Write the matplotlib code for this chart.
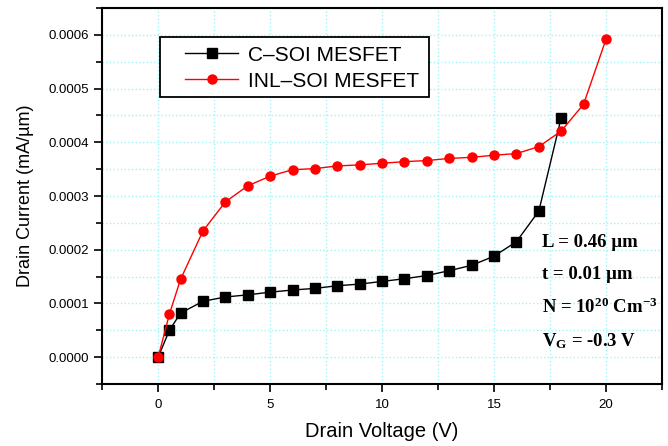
import numpy as np
import matplotlib
matplotlib.use('Agg')
import matplotlib.pyplot as plt
from matplotlib.patches import Rectangle
from matplotlib.ticker import MultipleLocator, FormatStrFormatter

# drain voltage (V)
vd_csoi = [0, 0.5, 1, 2, 3, 4, 5, 6, 7, 8, 9, 10, 11, 12, 13, 14, 15, 16, 17, 18]
id_csoi = [0, 0.000050, 0.000082, 0.000104, 0.000112, 0.000116, 0.000121, 0.000125,
           0.000128, 0.000133, 0.000136, 0.000141, 0.000146, 0.000152, 0.000161,
           0.000171, 0.000188, 0.000215, 0.000272, 0.000446]

vd_inl = [0, 0.5, 1, 2, 3, 4, 5, 6, 7, 8, 9, 10, 11, 12, 13, 14, 15, 16, 17, 18, 19, 20]
id_inl = [0, 0.000080, 0.000145, 0.000235, 0.000289, 0.000319, 0.000337, 0.000349,
          0.000351, 0.000356, 0.000358, 0.000361, 0.000364, 0.000366, 0.000370,
          0.000372, 0.000376, 0.000379, 0.000392, 0.000421, 0.000471, 0.000592]

labels = ['C\u2013SOI MESFET', 'INL\u2013SOI MESFET']
notes = ['L = 0.46 \u00b5m', 't = 0.01 \u00b5m',
         r'N = 10$^{\mathbf{20}}$ Cm$^{\mathbf{-3}}$', r'V$_{\mathregular{G}}$ = -0.3 V']

plt.rcParams['font.family'] = ['Liberation Sans', 'DejaVu Sans']
plt.rcParams['mathtext.fontset'] = 'custom'
plt.rcParams['mathtext.rm'] = 'Liberation Serif:bold'
plt.rcParams['mathtext.bf'] = 'Liberation Serif:bold'
plt.rcParams['mathtext.it'] = 'Liberation Serif:bold'

fig = plt.figure(figsize=(6.68, 4.46), dpi=100)
ax = fig.add_axes([0.153, 0.139, 0.838, 0.843])

ax.plot(vd_csoi, id_csoi, color='black', lw=1.0, marker='s', ms=6.5, label=labels[0], zorder=3)
ax.plot(vd_inl, id_inl, color='red', lw=1.0, marker='o', ms=6.5, label=labels[1], zorder=3)

ax.set_xlim(-2.5, 22.5)
ax.set_ylim(-0.00005, 0.00065)
ax.xaxis.set_major_locator(MultipleLocator(5))
ax.xaxis.set_minor_locator(MultipleLocator(2.5))
ax.yaxis.set_major_locator(MultipleLocator(0.0001))
ax.yaxis.set_minor_locator(MultipleLocator(0.00005))
ax.yaxis.set_major_formatter(FormatStrFormatter('%.4f'))
ax.grid(True, which='both', color='#9ff5f5', ls=':', lw=1.0, zorder=0)
ax.tick_params(which='major', direction='out', length=6, width=1.2, labelsize=9.5,
               colors='black')
ax.tick_params(which='minor', direction='out', length=4, width=1.2)
ax.tick_params(axis='x', pad=5)
for s in ax.spines.values():
    s.set_linewidth(1.5)

ax.set_xlabel('Drain Voltage (V)', fontsize=14.5, labelpad=8)
ax.set_ylabel('Drain Current (mA/\u00b5m)', fontsize=13, labelpad=10)

# legend text without frame, box drawn separately to match the wide padding
leg = ax.legend(loc='upper left', bbox_to_anchor=(0.148, 0.900), fontsize=15,
                frameon=False, handlelength=2.55, handletextpad=0.45,
                borderpad=0, borderaxespad=0, labelspacing=0.34)
ax.add_patch(Rectangle((0.1036, 0.763), 0.4804, 0.160, transform=ax.transAxes,
                       facecolor='white', edgecolor='black', lw=1.3, zorder=4))
leg.set_zorder(5)

ys = [0.000214, 0.000153, 0.000093, 0.000030]
for t, y in zip(notes, ys):
    ax.text(17.15, y, t, fontsize=13.5, fontweight='bold', family='Liberation Serif',
            va='center', ha='left')

fig.savefig('out.png', dpi=100)
